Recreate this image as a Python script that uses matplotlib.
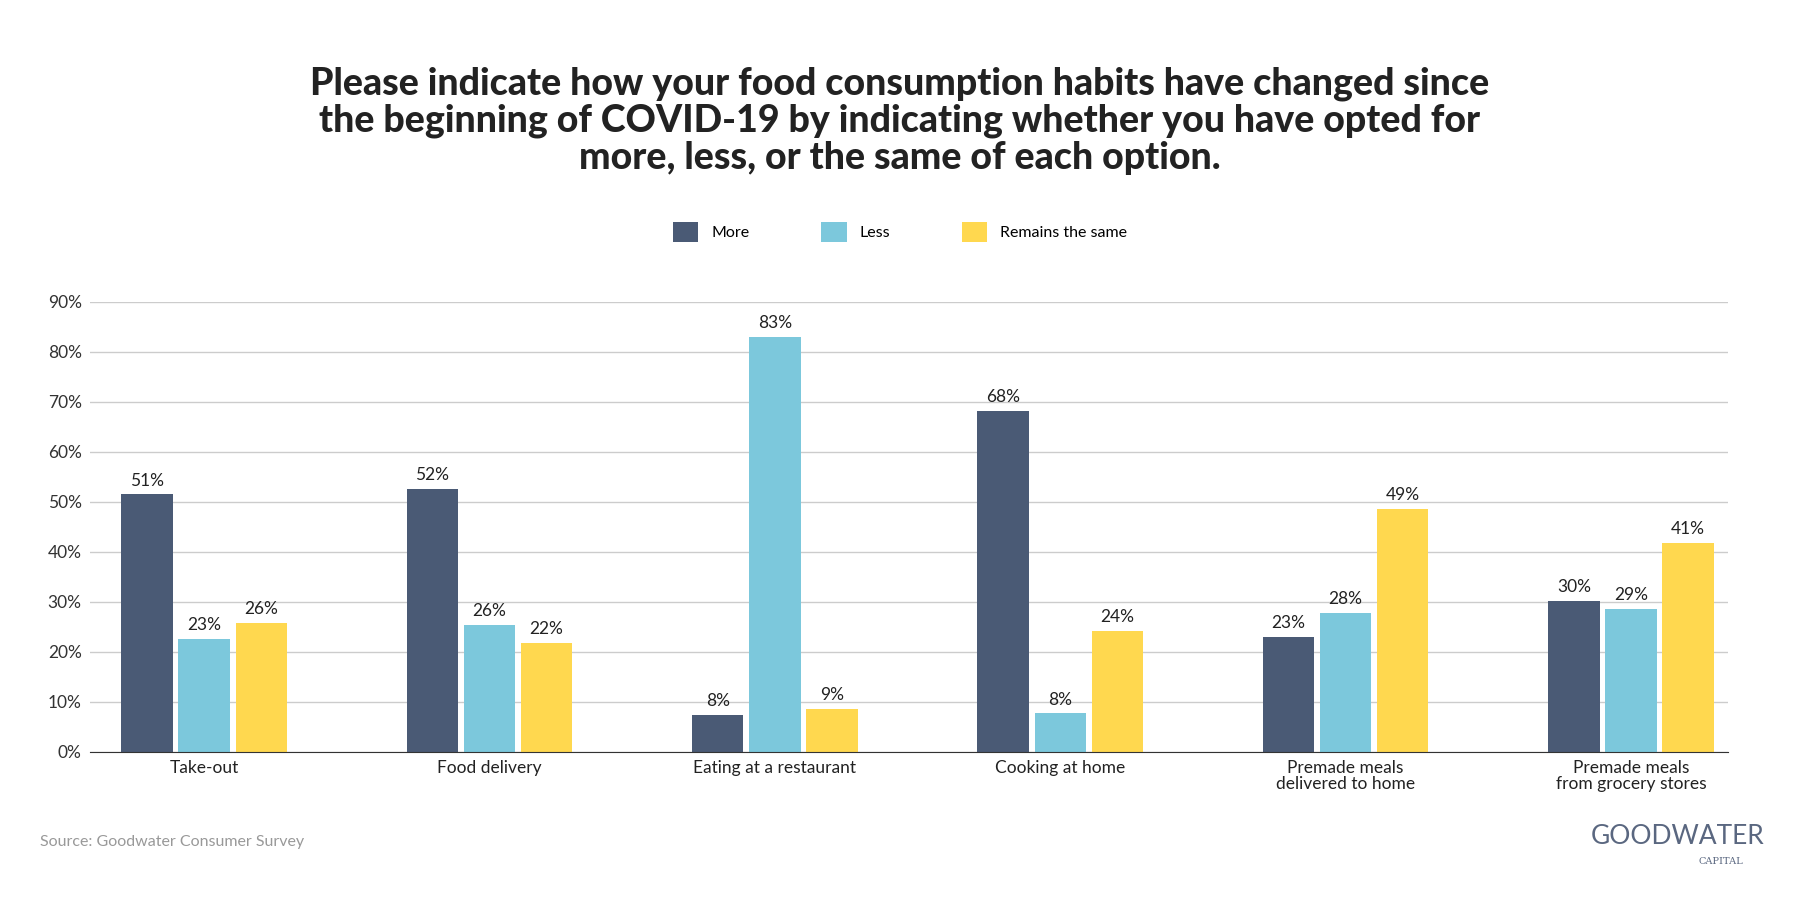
import matplotlib
matplotlib.use("Agg")
import matplotlib.pyplot as plt
import numpy as np

categories = ["Take-out", "Food delivery", "Eating at a restaurant", "Cooking at home",
              "Premade meals\ndelivered to home", "Premade meals\nfrom grocery stores"]
more = [51.5, 52.6, 7.4, 68.2, 23.0, 30.2]
less = [22.6, 25.4, 83.0, 7.7, 27.8, 28.6]
same = [25.8, 21.8, 8.6, 24.2, 48.6, 41.8]
more_lbl = [51, 52, 8, 68, 23, 30]
less_lbl = [23, 26, 83, 8, 28, 29]
same_lbl = [26, 22, 9, 24, 49, 41]
series_names = ["More", "Less", "Remains the same"]
colors = ["#4a5a75", "#7cc8dc", "#ffd84f"]

plt.rcParams['font.family'] = ['Lato', 'DejaVu Sans']
fig = plt.figure(figsize=(18, 9), dpi=100)
ax = fig.add_axes([0.05, 0.165, 0.91, 0.5])
x = np.arange(len(categories))
w = 0.18
for i, (vals, lbls) in enumerate([(more, more_lbl), (less, less_lbl), (same, same_lbl)]):
    pos = x + (i - 1) * 0.2
    ax.bar(pos, vals, w, color=colors[i], label=series_names[i], zorder=3)
    for p, v, l in zip(pos, vals, lbls):
        ax.text(p, v + 1, f"{l}%", ha="center", va="bottom", fontsize=12.5, color="#222")
ax.set_ylim(0, 90)
ax.set_xlim(-0.4, 5.34)
ax.set_yticks(range(0, 91, 10))
ax.set_yticklabels([f"{t}%" for t in range(0, 91, 10)], fontsize=12.5, color="#333")
ax.set_xticks(x)
ax.set_xticklabels(categories, fontsize=12.5, color="#222", linespacing=1.0)
ax.tick_params(length=0, pad=6)
ax.grid(axis="y", color="#cccccc", lw=1, zorder=0)
for s in ["top", "right", "left"]:
    ax.spines[s].set_visible(False)
ax.spines["bottom"].set_color("#333")
ax.spines["bottom"].set_zorder(4)

fig.text(0.5, 0.866, "Please indicate how your food consumption habits have changed since\n"
         "the beginning of COVID-19 by indicating whether you have opted for\n"
         "more, less, or the same of each option.", ha="center", va="center",
         fontsize=27, fontweight="black", color="#222", linespacing=1.1)
fig.legend(loc="center", bbox_to_anchor=(0.5, 0.742), ncol=3, frameon=False,
           fontsize=11.5, handlelength=1.6, handleheight=1.6, columnspacing=4.5)
fig.text(0.022, 0.06, "Source: Goodwater Consumer Survey", fontsize=11.5, color="#999")
fig.text(0.98, 0.07, "GOODWATER", ha="right", va="center", fontsize=19, color="#5a6780")
fig.text(0.956, 0.043, "CAPITAL", ha="center", va="center", fontsize=7, color="#5a6780", family="DejaVu Serif")
fig.savefig("out.png", dpi=100, facecolor="white")
